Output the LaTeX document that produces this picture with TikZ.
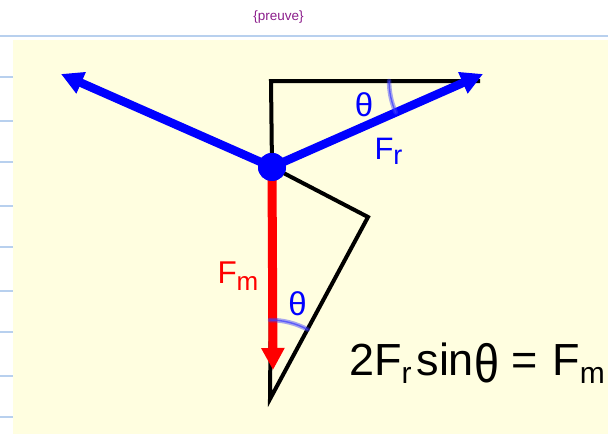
\documentclass[tikz,border=0pt]{standalone}
\usepackage{fontspec}
\setmainfont{Liberation Sans}
\usetikzlibrary{arrows.meta}
\definecolor{bgyellow}{RGB}{255,254,224}
\definecolor{rulerblue}{RGB}{184,208,238}
\definecolor{titlepurple}{RGB}{140,30,140}
\definecolor{arcblue}{RGB}{60,60,255}
\tikzset{
  ruler/.style={draw=rulerblue, line width=2pt},
  geom/.style={draw=black, line width=4pt, line join=miter},
  forceblue/.style={draw=blue, line width=8.5pt, -{Triangle[length=22pt,width=22pt]}},
  forcered/.style={draw=red, line width=9pt, -{Triangle[length=22pt,width=22pt]}},
  anglearc/.style={draw=arcblue, line width=4.5pt, draw opacity=0.45, line cap=round},
  anglearcin/.style={draw=arcblue, line width=1.4pt, draw opacity=0.7, line cap=round},
  lbl/.style={inner sep=0pt, outer sep=0pt},
}
\newcommand{\fs}[1]{\fontsize{#1pt}{#1pt}\selectfont}
\begin{document}
\begin{tikzpicture}[x=1pt,y=-1pt]
\useasboundingbox (0,0) rectangle (608,434);
% page decorations
\fill[white] (0,0) rectangle (608,434);
\node[lbl, text=titlepurple, font=\fs{13.5}] (title) at (278.5,17) {\{preuve\}};
\draw[ruler] (0,35.5) -- (608,35.5);
\fill[bgyellow] (13,40) rectangle (608,434);
\foreach \yy in {77.3,120.7,162.3,205.7,247.3,290.7,332.3,375.7,417.3}
  \draw[ruler] (0,\yy) -- (13,\yy);
% key points
\node[circle, fill=blue, minimum size=28pt, inner sep=0pt] (c) at (272,167) {};
\coordinate (lt) at (61,74);
\coordinate (rt) at (483,74);
\coordinate (mt) at (273,370);
\coordinate (tl) at (271,81);
\coordinate (tr) at (480,81);
\coordinate (rc) at (368,217);
\coordinate (bt) at (270,399);
\coordinate (tv) at (467.1,81);
% black construction
\draw[geom] (c.center) -- (tl) -- (tr);
\draw[geom] (c.center) -- (rc) -- (bt) -- (c.center);
% forces
\draw[forcered] (c.center) -- (mt);
\draw[forceblue] (c.center) -- (lt);
\draw[forceblue] (c.center) -- (rt);
\node[circle, fill=blue, minimum size=28pt, inner sep=0pt] at (c) {};
% angle arcs
\draw[anglearc] ([shift={(180:78)}]tv) arc[start angle=180, end angle=156.2, radius=78];
\draw[anglearcin] ([shift={(180:78)}]tv) arc[start angle=180, end angle=156.2, radius=78];
\draw[anglearc] ([shift={(270:79)}]bt) arc[start angle=270, end angle=298.5, radius=79];
\draw[anglearcin] ([shift={(270:79)}]bt) arc[start angle=270, end angle=298.5, radius=79];
% labels
\node[lbl, text=blue, font=\fs{33}] (th1) at (364,105) {θ};
\node[lbl, text=blue, font=\fs{33}] (th2) at (297.5,304) {θ};
\node[lbl, text=blue, font=\fs{31}, anchor=base west] (fr) at (374.5,159) {F\raisebox{-5pt}{\fs{27}r}};
\node[lbl, text=red, font=\fs{31.5}, anchor=base west] (fm) at (217.5,283) {F\raisebox{-7pt}{\fs{26}m}};
\node[lbl, text=black, font=\fs{45}, anchor=base west] (eq) at (349,375)
  {2F\raisebox{-8pt}{\fs{30}r}\kern5pt sin\raisebox{-7pt}{\scalebox{1}[1.2]{θ}} = \kern2pt F\raisebox{-8pt}{\fs{30}m}};
\end{tikzpicture}
\end{document}
